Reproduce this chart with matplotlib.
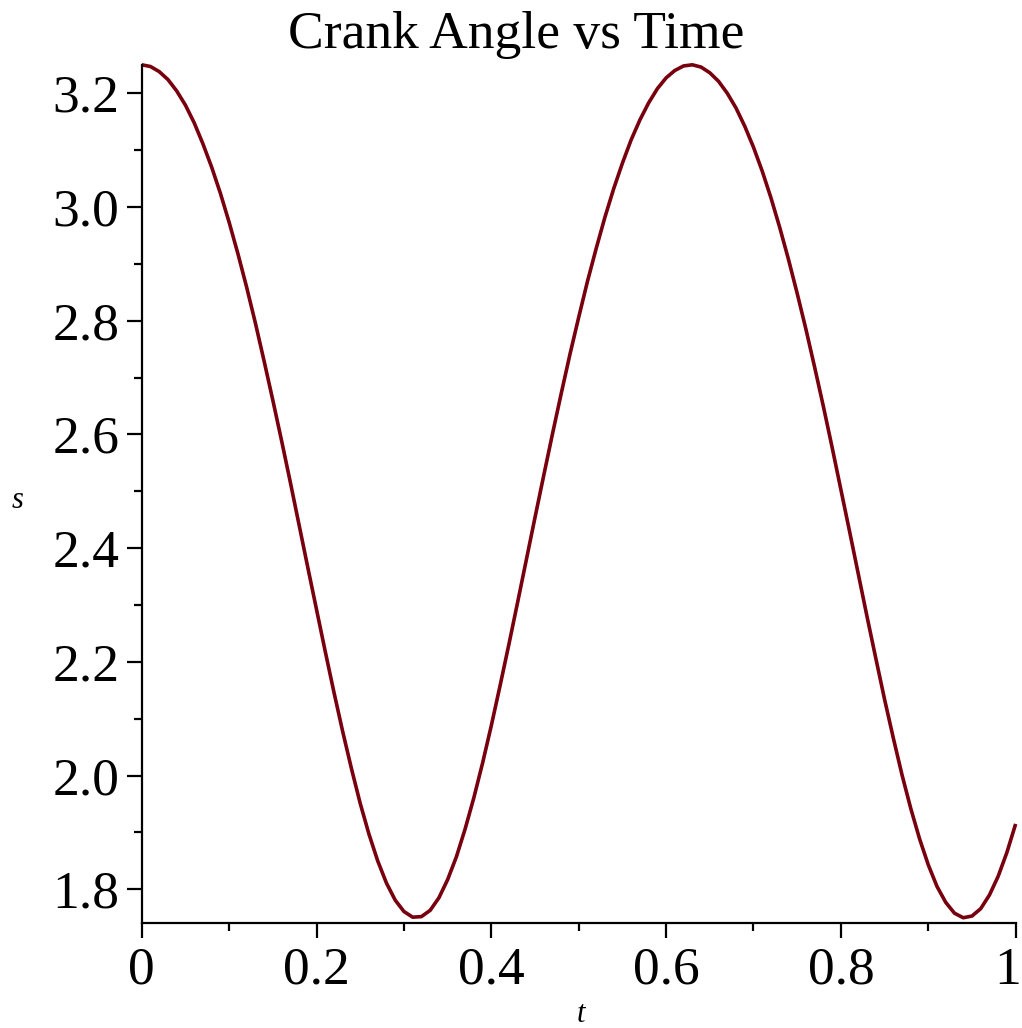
import numpy as np
import matplotlib
matplotlib.use("Agg")
import matplotlib.pyplot as plt
import matplotlib.transforms as mtransforms
from matplotlib.ticker import MultipleLocator, FixedLocator

plt.rcParams['font.family'] = ['Liberation Serif', 'DejaVu Serif']

# t de 0 a 1 cada 0.01, valores de s
t = np.arange(101) / 100
s = [3.250, 3.247, 3.238, 3.224, 3.204, 3.179, 3.148, 3.111, 3.070, 3.024,
     2.973, 2.918, 2.859, 2.796, 2.729, 2.660, 2.589, 2.516, 2.441, 2.366,
     2.292, 2.218, 2.146, 2.077, 2.012, 1.951, 1.897, 1.850, 1.811, 1.781,
     1.761, 1.751, 1.752, 1.763, 1.785, 1.817, 1.857, 1.906, 1.961, 2.022,
     2.088, 2.158, 2.230, 2.304, 2.379, 2.454, 2.528, 2.601, 2.672, 2.741,
     2.806, 2.869, 2.927, 2.982, 3.032, 3.077, 3.118, 3.153, 3.183, 3.208,
     3.227, 3.240, 3.248, 3.250, 3.246, 3.236, 3.221, 3.200, 3.174, 3.142,
     3.105, 3.063, 3.016, 2.964, 2.908, 2.848, 2.785, 2.718, 2.649, 2.577,
     2.503, 2.429, 2.354, 2.279, 2.206, 2.134, 2.066, 2.001, 1.942, 1.889,
     1.843, 1.805, 1.777, 1.758, 1.750, 1.753, 1.766, 1.790, 1.823, 1.865,
     1.915]

xticks = [0, 0.2, 0.4, 0.6, 0.8, 1.0]
xticklabels = ["0", "0.2", "0.4", "0.6", "0.8", "1"]
yticks = [1.8, 2.0, 2.2, 2.4, 2.6, 2.8, 3.0, 3.2]
yticklabels = ["1.8", "2.0", "2.2", "2.4", "2.6", "2.8", "3.0", "3.2"]

fig = plt.figure(figsize=(10.22, 10.28), dpi=100)
ax = fig.add_axes([0.1387, 0.1021, 0.8551, 0.8347])

ax.plot(t, s, color="#78000E", lw=2.6, clip_on=False, solid_capstyle="butt",
        solid_joinstyle="round")

ax.set_xlim(0, 1)
ax.set_ylim(1.7407, 3.2497)

for side in ["top", "right"]:
    ax.spines[side].set_visible(False)
for side in ["left", "bottom"]:
    ax.spines[side].set_linewidth(1.6)

ax.xaxis.set_major_locator(FixedLocator(xticks))
ax.set_xticklabels(xticklabels)
ax.yaxis.set_major_locator(FixedLocator(yticks))
ax.set_yticklabels(yticklabels)
ax.xaxis.set_minor_locator(MultipleLocator(0.1))
ax.yaxis.set_minor_locator(MultipleLocator(0.1))

ax.tick_params(which="major", direction="out", length=11, width=1.6,
               labelsize=38.5)
ax.tick_params(axis="y", which="major", pad=5)
ax.tick_params(axis="x", which="major", pad=6)
ax.tick_params(which="minor", direction="out", length=6, width=1.6)

# la etiqueta "1" queda pegada al borde, se corre un poco a la izquierda
last = ax.get_xticklabels()[-1]
last.set_transform(last.get_transform() +
                   mtransforms.ScaledTranslation(-8 / 100, 0, fig.dpi_scale_trans))

fig.text(0.505, 1 - 48 / 1028, "Crank Angle vs Time", fontsize=38.5,
         ha="center", va="baseline")
ax.set_xlabel("t", fontsize=22, style="italic", va="center")
ax.xaxis.set_label_coords(0.502, -0.107)
ax.set_ylabel("s", fontsize=22, style="italic", rotation=0, va="center",
              ha="center")
ax.yaxis.set_label_coords(-0.142, 0.493)

fig.savefig("out.png", dpi=100)
